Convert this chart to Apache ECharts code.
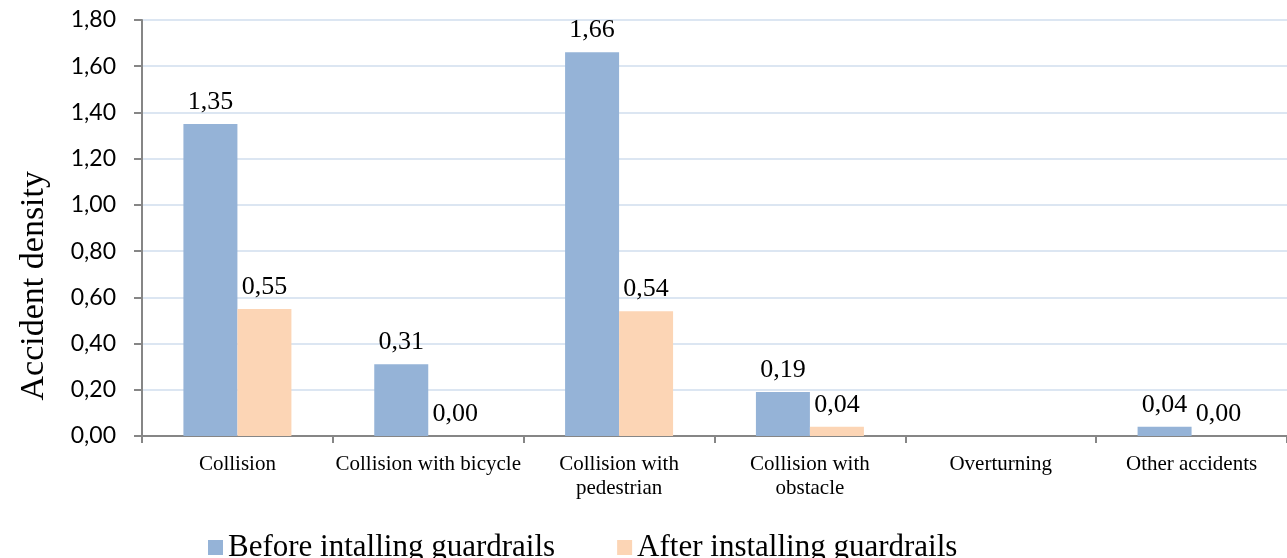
<!DOCTYPE html>
<html>
<head>
<meta charset="utf-8">
<script src="https://cdn.jsdelivr.net/npm/echarts@6/dist/echarts.min.js"></script>
<style>
  html, body { margin: 0; padding: 0; background: #fff; }
  #chart { width: 1287px; height: 558px; }
</style>
</head>
<body>
<div id="chart"></div>
<script>
// Accident density by accident type, before and after guardrails were installed
const categories = [
  'Collision',
  'Collision with bicycle',
  'Collision with\npedestrian',
  'Collision with\nobstacle',
  'Overturning',
  'Other accidents'
];
const beforeValues = [1.35, 0.31, 1.66, 0.19, null, 0.04];
const afterValues = [0.55, 0.00, 0.54, 0.04, null, 0.00];
const seriesNames = ['Before intalling guardrails', 'After installing guardrails'];
const yAxisTitle = 'Accident density';

const fmt = v => v.toFixed(2).replace('.', ',');
const serif = '"Liberation Serif", "Times New Roman", serif';
const sans = 'Lato, "Open Sans", sans-serif';

const chart = echarts.init(document.getElementById('chart'));

const labelStyle = {
  show: true,
  position: 'top',
  distance: 9,
  fontFamily: serif,
  fontSize: 26,
  color: '#000',
  formatter: p => (p.value == null ? '' : fmt(p.value))
};

chart.setOption({
  animation: false,
  grid: { left: 142, right: 0, top: 20, bottom: 122, containLabel: false },
  legend: {
    left: 203,
    top: 527,
    itemWidth: 15,
    itemHeight: 15,
    itemGap: 62,
    icon: 'rect',
    textStyle: { fontFamily: serif, fontSize: 31, color: '#000' },
    data: seriesNames
  },
  graphic: [{
    type: 'text',
    left: 17,
    top: 171,
    rotation: Math.PI / 2,
    style: {
      text: yAxisTitle,
      fontFamily: serif,
      fontSize: 34,
      fill: '#000'
    }
  }],
  xAxis: {
    type: 'category',
    data: categories,
    axisLine: { lineStyle: { color: '#868686', width: 2 } },
    axisTick: { show: true, length: 7, alignWithLabel: false, lineStyle: { color: '#868686', width: 2 } },
    axisLabel: {
      fontFamily: serif,
      fontSize: 21,
      color: '#000',
      margin: 16,
      lineHeight: 24,
      interval: 0
    }
  },
  yAxis: {
    type: 'value',
    min: 0,
    max: 1.8,
    interval: 0.2,
    axisLine: { show: true, lineStyle: { color: '#868686', width: 2 } },
    axisTick: { show: true, length: 8, lineStyle: { color: '#868686', width: 2 } },
    splitLine: { lineStyle: { color: '#dce6f2', width: 2 } },
    axisLabel: {
      fontFamily: sans,
      fontSize: 23,
      color: '#000',
      margin: 26,
      formatter: v => fmt(v)
    }
  },
  series: [
    {
      name: seriesNames[0],
      type: 'bar',
      data: beforeValues,
      barWidth: 54,
      barGap: '0%',
      itemStyle: { color: '#95b3d7' },
      label: labelStyle
    },
    {
      name: seriesNames[1],
      type: 'bar',
      data: afterValues,
      barWidth: 54,
      barGap: '0%',
      itemStyle: { color: '#fcd5b5' },
      label: labelStyle
    }
  ]
});
</script>
</body>
</html>
